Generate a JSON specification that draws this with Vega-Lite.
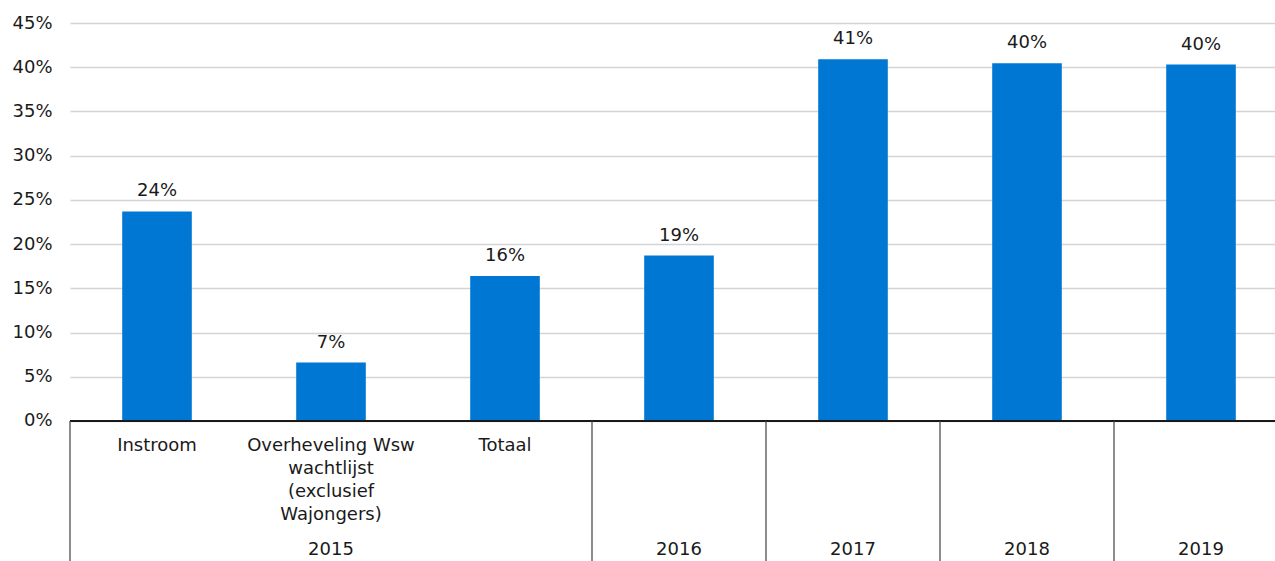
{
  "$schema": "https://vega.github.io/schema/vega-lite/v6.json",
  "width": 1205,
  "height": 538,
  "autosize": {"type": "none"},
  "padding": {"left": 70, "top": 23, "right": 0, "bottom": 0},
  "config": {"view": {"stroke": null}, "font": "DejaVu Sans"},
  "data": {"values": [
    {"key": "Instroom", "label": "Instroom", "year": "2015", "value": 0.237},
    {"key": "Overheveling", "label": "Overheveling Wsw\nwachtlijst\n(exclusief\nWajongers)", "year": "2015", "value": 0.066},
    {"key": "Totaal", "label": "Totaal", "year": "2015", "value": 0.164},
    {"key": "2016", "label": "", "year": "2016", "value": 0.187},
    {"key": "2017", "label": "", "year": "2017", "value": 0.409},
    {"key": "2018", "label": "", "year": "2018", "value": 0.4045},
    {"key": "2019", "label": "", "year": "2019", "value": 0.403}
  ]},
  "encoding": {
    "x": {"field": "key", "type": "nominal", "sort": null, "axis": null,
          "scale": {"range": [0, 1218], "paddingInner": 0, "paddingOuter": 0}}
  },
  "layer": [
    {
      "mark": {"type": "bar", "color": "#0077d3", "width": {"band": 0.4}},
      "encoding": {
        "y": {"field": "value", "type": "quantitative",
              "scale": {"domain": [-0.1583, 0.45], "nice": false, "zero": false},
              "axis": {"values": [0, 0.05, 0.1, 0.15, 0.2, 0.25, 0.3, 0.35, 0.4, 0.45],
                       "format": ".0%", "title": null, "domain": false, "ticks": false,
                       "labelPadding": 18, "labelFontSize": 18, "labelColor": "#1a1a1a",
                       "labelFont": "DejaVu Sans",
                       "grid": true, "gridColor": "#d4d4d4", "gridWidth": 1.5}}
      }
    },
    {
      "mark": {"type": "text", "baseline": "bottom", "dy": -11, "fontSize": 18, "color": "#1a1a1a"},
      "encoding": {
        "y": {"field": "value", "type": "quantitative"},
        "text": {"field": "value", "type": "quantitative", "format": ".0%"}
      }
    },
    {
      "mark": {"type": "rule", "color": "#1a1a1a", "strokeWidth": 1.5},
      "encoding": {"x": null, "y": {"datum": 0}}
    },
    {
      "transform": [{"filter": "datum.key != 'Overheveling' && datum.key != 'Totaal'"}],
      "mark": {"type": "rule", "color": "#404040", "strokeWidth": 1.2},
      "encoding": {
        "x": {"field": "key", "type": "nominal", "sort": null, "bandPosition": 0},
        "y": {"datum": 0},
        "y2": {"datum": -0.1583}
      }
    },
    {
      "mark": {"type": "text", "baseline": "top", "dy": 16, "fontSize": 18, "lineBreak": "\n", "lineHeight": 23, "color": "#1a1a1a"},
      "encoding": {
        "y": {"datum": 0},
        "text": {"field": "label", "type": "nominal"}
      }
    },
    {
      "transform": [{"filter": "datum.key != 'Instroom' && datum.key != 'Totaal'"}],
      "mark": {"type": "text", "baseline": "middle", "dy": 129, "fontSize": 18, "color": "#1a1a1a"},
      "encoding": {
        "y": {"datum": 0},
        "text": {"field": "year", "type": "nominal"}
      }
    }
  ]
}
